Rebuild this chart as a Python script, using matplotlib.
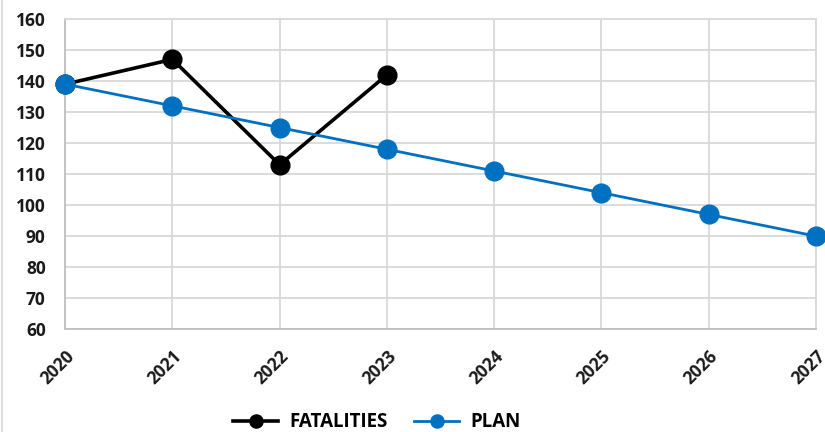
import numpy as np
import matplotlib.pyplot as plt

years = ["2020", "2021", "2022", "2023", "2024", "2025", "2026", "2027"]
fatalities = [139, 147, 113, 142]
plan = [139, 132, 125, 118, 111, 104, 97, 90]

plt.rcParams['font.family'] = ['Open Sans', 'DejaVu Sans']
plt.rcParams['font.weight'] = 'bold'

fig = plt.figure(figsize=(8.25, 4.32), dpi=100)
ax = fig.add_axes([0.079, 0.238, 0.910, 0.718])

x = np.arange(len(years))
ax.plot(x[:len(fatalities)], fatalities, color='black', lw=2.6, marker='o',
        markersize=13.5, label='FATALITIES', clip_on=False, zorder=3)
ax.plot(x, plan, color='#0070C0', lw=2, marker='o',
        markersize=13.5, label='PLAN', clip_on=False, zorder=4)

ax.set_xlim(0, len(years) - 1)
ax.set_ylim(60, 160)
ax.set_yticks(np.arange(60, 161, 10))
ax.set_xticks(x)
ax.set_xticklabels(years, rotation=45, ha='right', rotation_mode='anchor')
ax.tick_params(axis='both', length=0, labelsize=12.5, labelcolor='#1a1a1a')
ax.tick_params(axis='x', pad=13)
ax.tick_params(axis='y', pad=14)
for lab in ax.get_xticklabels() + ax.get_yticklabels():
    lab.set_fontweight('bold')

ax.grid(True, color='#d9d9d9', lw=1.3)
ax.set_axisbelow(True)
for s in ax.spines.values():
    s.set_color('#d9d9d9')
    s.set_linewidth(1.3)
ax.spines['left'].set_color('#bfbfbf')
ax.spines['bottom'].set_color('#bfbfbf')

leg = fig.legend(loc='center', bbox_to_anchor=(0.457, 0.022), ncol=2,
                 frameon=False, fontsize=13.5, handlelength=2.4,
                 columnspacing=1.4, handletextpad=0.6, markerscale=0.7,
                 borderpad=0)
for t in leg.get_texts():
    t.set_fontweight('bold')

# thin border on the left edge like the source image
fig.add_artist(plt.Line2D([0.003, 0.003], [0, 1], color='#d9d9d9', lw=1.2,
                          transform=fig.transFigure))

fig.savefig('out.png', dpi=100)
